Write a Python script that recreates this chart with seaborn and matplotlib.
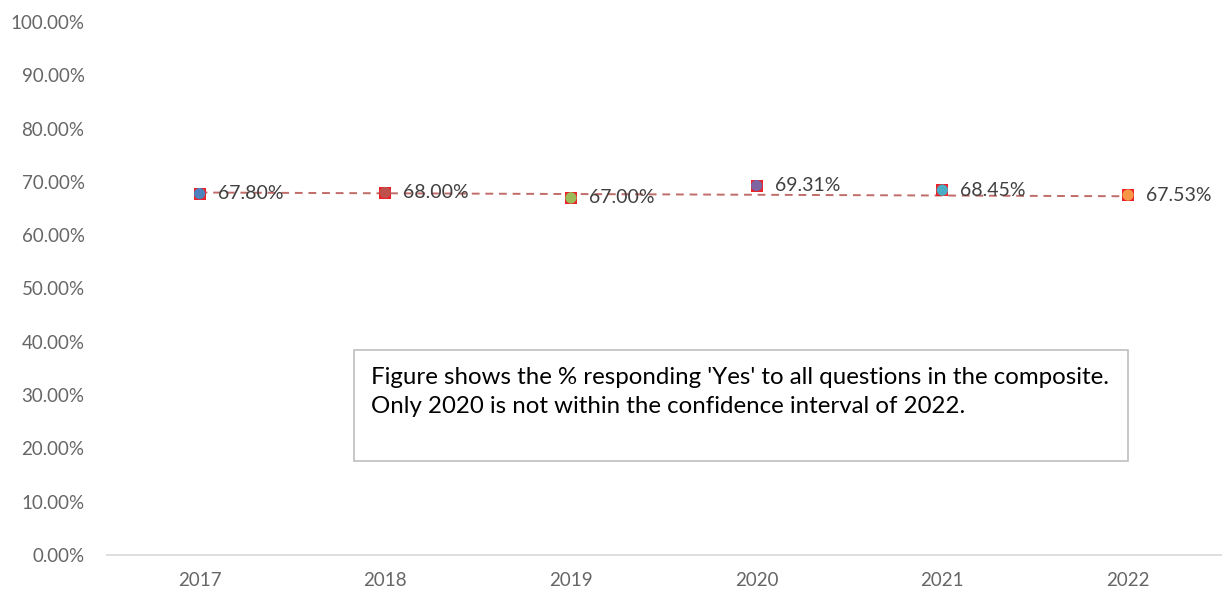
import pandas as pd
import seaborn as sns
import matplotlib.pyplot as plt
from matplotlib.ticker import PercentFormatter

sns.set_theme()
sns.set_style("white")
plt.rcParams["font.family"] = ["Lato", "DejaVu Sans"]

years = ["2017", "2018", "2019", "2020", "2021", "2022"]
values = [67.80, 68.00, 67.00, 69.31, 68.45, 67.53]
colors = ["#4F81BD", "#C0504D", "#9BBB59", "#8064A2", "#4BACC6", "#F79646"]
# dashed trend line at first and last year
trend_years = ["2017", "2022"]
trend_values = [68.0, 67.3]
note = ("Figure shows the % responding 'Yes' to all questions in the composite.\n"
        "Only 2020 is not within the confidence interval of 2022.")

df = pd.DataFrame({"year": years, "pct": values})
df["pos"] = range(len(df))
trend = pd.DataFrame({"pos": [years.index(y) for y in trend_years], "pct": trend_values})

fig, ax = plt.subplots(figsize=(12.27, 5.93), dpi=100)
fig.subplots_adjust(left=0.087, right=0.995, bottom=0.064, top=0.963)

sns.lineplot(data=trend, x="pos", y="pct", ax=ax, color="#B5524F", alpha=0.85,
             linestyle=(0, (4, 3)), linewidth=1.4, zorder=1)
# red square behind each point
sns.scatterplot(data=df, x="pos", y="pct", ax=ax, marker="s", s=80,
                color="#E8232A", linewidth=0, zorder=2, legend=False)
sns.scatterplot(data=df, x="pos", y="pct", hue="year", palette=colors, ax=ax,
                marker="o", s=65, linewidth=0, zorder=3, legend=False)

for _, r in df.iterrows():
    ax.annotate(f"{r.pct:.2f}%", (r.pos, r.pct), xytext=(13, 0),
                textcoords="offset points", va="center", ha="left",
                fontsize=14, color="#404040", zorder=4)

ax.text(0.237, 0.352, note, transform=ax.transAxes, ha="left", va="top",
        fontsize=17.3, color="#000000", linespacing=1.45)
box = plt.Rectangle((0.222, 0.177), 0.695, 0.207, transform=ax.transAxes,
                    fill=False, ec="#BFBFBF", lw=1.2)
ax.add_patch(box)

ax.set_xlim(-0.5, 5.5)
ax.set_ylim(0, 100)
ax.set_xticks(df["pos"], years)
ax.set_yticks(range(0, 101, 10))
ax.yaxis.set_major_formatter(PercentFormatter(decimals=2))
ax.tick_params(axis="both", length=0, labelsize=13.5, colors="#666666", pad=12)
ax.tick_params(axis="y", pad=16)
ax.set_xlabel("")
ax.set_ylabel("")
sns.despine(ax=ax, left=True)
ax.spines["bottom"].set_color("#D9D9D9")

fig.savefig("out.png", dpi=100)
